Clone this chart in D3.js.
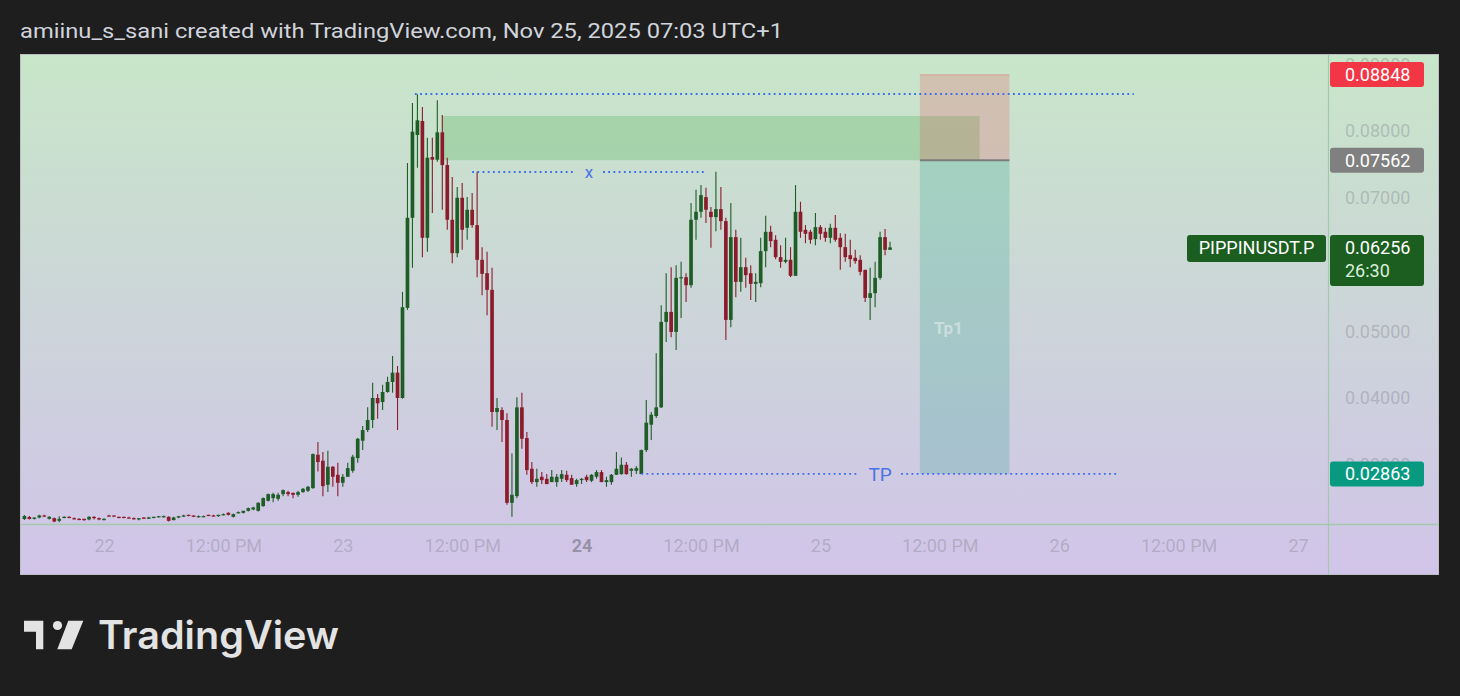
<!DOCTYPE html>
<html><head><meta charset="utf-8">
<script src="https://cdn.jsdelivr.net/npm/d3@7"></script>
<style>html,body{margin:0;padding:0;background:#1e1e1e;overflow:hidden}</style>
</head><body>
<svg id="c" width="1460" height="696"></svg>
<script>
// ---------- DATA ----------
const titleText = "amiinu_s_sani created with TradingView.com, Nov 25, 2025 07:03 UTC+1";
const symbol = "PIPPINUSDT.P";
const countdown = "26:30";
const startTime = "2025-11-21T16:00:00Z";   // first 30-minute candle
const intervalMinutes = 30;

const opens = [
0.02187,0.02217,0.0219,0.0221,0.0224,0.0219,0.0220,0.0216,0.0221,0.0222,
0.0220,0.0219,0.0219,0.0218,0.0222,0.0220,0.0217,0.0224,0.0224,0.0222,
0.0222,0.0221,0.0220,0.0218,0.0221,0.0219,0.0221,0.0222,0.0222,0.0222,
0.0217,0.0221,0.0223,0.0225,0.0224,0.0222,0.0222,0.0225,0.0224,0.0223,
0.0225,0.0228,0.0222,0.0228,0.0228,0.0231,0.0233,0.0231,0.0238,0.0246,
0.0250,0.0249,0.0256,0.0259,0.0258,0.0255,0.0259,0.0261,0.0265,0.0315,
0.0306,0.0270,0.0297,0.0285,0.0273,0.0282,0.0291,0.0310,0.0336,0.0352,
0.0367,0.0400,0.0394,0.0409,0.0424,0.0438,0.0400,0.0535,0.0670,0.0794,
0.0815,0.0640,0.0761,0.0757,0.0798,0.0749,0.0667,0.0617,0.0700,0.0655,
0.0682,0.0659,0.0607,0.0587,0.0562,0.0379,0.0382,0.0367,0.0243,0.0253,
0.0386,0.0340,0.0294,0.0274,0.0282,0.0279,0.0274,0.0274,0.0279,0.0285,
0.0280,0.0271,0.0277,0.0282,0.0276,0.0282,0.0289,0.0274,0.0274,0.0285,
0.0286,0.0300,0.0291,0.0291,0.0286,0.0322,0.0360,0.0373,0.0386,0.0514,
0.0529,0.0499,0.0580,0.0581,0.0569,0.0667,0.0679,0.0701,0.0679,0.0671,
0.0683,0.0665,0.0517,0.0641,0.0574,0.0596,0.0587,0.0571,0.0572,0.0620,
0.0649,0.0637,0.0611,0.0604,0.0607,0.0583,0.0679,0.0652,0.0649,0.0638,
0.0656,0.0649,0.0640,0.0655,0.0640,0.0626,0.0614,0.0610,0.0607,0.0592,
0.0550,0.0557,0.0580,0.0641,0.0622];

const highs = [
0.02247,0.02232,0.0221,0.0225,0.0225,0.0223,0.0221,0.0223,0.0223,0.0223,
0.0221,0.0220,0.0219,0.0223,0.0223,0.0221,0.0220,0.0225,0.0224,0.0222,
0.0222,0.0222,0.0221,0.0220,0.0221,0.0222,0.0222,0.0223,0.0224,0.0223,
0.0222,0.0223,0.0225,0.0225,0.0224,0.0224,0.0224,0.0225,0.0225,0.0225,
0.0227,0.0229,0.0227,0.0230,0.0231,0.0236,0.0237,0.0244,0.0251,0.0257,
0.0258,0.0258,0.0263,0.0261,0.0258,0.0261,0.0265,0.0268,0.0317,0.0334,
0.0319,0.0321,0.0298,0.0303,0.0286,0.0303,0.0315,0.0340,0.0358,0.0386,
0.0423,0.0406,0.0420,0.0432,0.0463,0.0448,0.0559,0.0752,0.0842,0.0855,
0.0836,0.0790,0.0790,0.0846,0.0824,0.0760,0.0731,0.0716,0.0722,0.0701,
0.0707,0.0739,0.0626,0.0619,0.0595,0.0400,0.0386,0.0377,0.0317,0.0401,
0.0408,0.0349,0.0304,0.0294,0.0289,0.0286,0.0292,0.0286,0.0292,0.0291,
0.0285,0.0279,0.0280,0.0285,0.0286,0.0292,0.0292,0.0282,0.0286,0.0319,
0.0311,0.0304,0.0295,0.0298,0.0323,0.0397,0.0379,0.0467,0.0539,0.0587,
0.0596,0.0599,0.0604,0.0587,0.0692,0.0712,0.0719,0.0715,0.0686,0.0739,
0.0716,0.0670,0.0692,0.0652,0.0640,0.0610,0.0599,0.0587,0.0640,0.0673,
0.0658,0.0644,0.0629,0.0640,0.0626,0.0719,0.0694,0.0659,0.0652,0.0677,
0.0659,0.0655,0.0661,0.0674,0.0647,0.0646,0.0637,0.0622,0.0614,0.0592,
0.0595,0.0604,0.0649,0.0653,0.0634];

const lows = [
0.02172,0.0218,0.0218,0.0220,0.0222,0.0218,0.0214,0.0214,0.0220,0.0220,
0.0218,0.0217,0.0216,0.0217,0.0218,0.0217,0.0217,0.0223,0.0222,0.0220,
0.0220,0.0220,0.0218,0.0217,0.0219,0.0219,0.0220,0.0221,0.0221,0.0215,
0.0217,0.0220,0.0222,0.0223,0.0222,0.0221,0.0222,0.0223,0.0223,0.0222,
0.0224,0.0224,0.0221,0.0227,0.0227,0.0230,0.0232,0.0230,0.0237,0.0245,
0.0244,0.0246,0.0253,0.0253,0.0250,0.0252,0.0258,0.0259,0.0264,0.0290,
0.0253,0.0259,0.0267,0.0253,0.0267,0.0282,0.0288,0.0303,0.0322,0.0349,
0.0355,0.0369,0.0382,0.0408,0.0408,0.0352,0.0399,0.0532,0.0595,0.0745,
0.0611,0.0619,0.0677,0.0754,0.0682,0.0652,0.0602,0.0611,0.0622,0.0637,
0.0655,0.0581,0.0554,0.0524,0.0357,0.0352,0.0334,0.0240,0.0222,0.0250,
0.0324,0.0285,0.0271,0.0267,0.0271,0.0271,0.0274,0.0267,0.0274,0.0274,
0.0270,0.0267,0.0271,0.0274,0.0274,0.0279,0.0274,0.0267,0.0270,0.0285,
0.0285,0.0285,0.0282,0.0286,0.0286,0.0319,0.0337,0.0370,0.0385,0.0484,
0.0491,0.0472,0.0520,0.0544,0.0565,0.0637,0.0670,0.0662,0.0625,0.0650,
0.0652,0.0487,0.0506,0.0551,0.0559,0.0565,0.0547,0.0544,0.0566,0.0596,
0.0626,0.0608,0.0595,0.0602,0.0581,0.0583,0.0640,0.0632,0.0631,0.0629,
0.0637,0.0634,0.0632,0.0634,0.0592,0.0604,0.0596,0.0601,0.0584,0.0544,
0.0517,0.0536,0.0577,0.0614,0.0622];

const closes = [
0.02232,0.02187,0.0221,0.0224,0.0223,0.0222,0.0215,0.0219,0.0222,0.0221,
0.0219,0.0218,0.0217,0.0222,0.0220,0.0218,0.0219,0.0223,0.0223,0.0221,
0.0221,0.0220,0.0219,0.0220,0.0219,0.0221,0.0222,0.0223,0.0223,0.0216,
0.0221,0.0223,0.0224,0.0224,0.0222,0.0223,0.0223,0.0224,0.0223,0.0225,
0.0226,0.0225,0.0226,0.0229,0.0231,0.0235,0.0236,0.0243,0.0250,0.0256,
0.0256,0.0255,0.0262,0.0256,0.0255,0.0259,0.0264,0.0267,0.0316,0.0304,
0.0268,0.0297,0.0282,0.0273,0.0282,0.0295,0.0312,0.0339,0.0352,0.0367,
0.0400,0.0392,0.0409,0.0424,0.0438,0.0400,0.0536,0.0670,0.0799,0.0816,
0.0640,0.0760,0.0757,0.0798,0.0749,0.0667,0.0617,0.0700,0.0652,0.0682,
0.0659,0.0607,0.0586,0.0562,0.0379,0.0385,0.0367,0.0243,0.0255,0.0386,
0.0339,0.0292,0.0274,0.0279,0.0277,0.0271,0.0282,0.0282,0.0286,0.0277,
0.0270,0.0277,0.0279,0.0277,0.0285,0.0289,0.0274,0.0277,0.0285,0.0294,
0.0300,0.0286,0.0294,0.0295,0.0322,0.0363,0.0375,0.0386,0.0514,0.0529,
0.0499,0.0580,0.0581,0.0569,0.0667,0.0679,0.0704,0.0682,0.0671,0.0683,
0.0665,0.0517,0.0641,0.0574,0.0596,0.0584,0.0571,0.0574,0.0620,0.0649,
0.0635,0.0611,0.0604,0.0607,0.0583,0.0679,0.0649,0.0646,0.0637,0.0656,
0.0646,0.0640,0.0655,0.0637,0.0626,0.0611,0.0608,0.0605,0.0589,0.0550,
0.0557,0.0580,0.0641,0.0622,0.06256];

// 0.06 tick is fully covered by the last-price label in the reference, so it is omitted
const priceTicks = [0.03, 0.04, 0.05, 0.07, 0.08, 0.09];
const timeTicks = ["2025-11-22T00:00Z","2025-11-22T12:00Z","2025-11-23T00:00Z","2025-11-23T12:00Z",
  "2025-11-24T00:00Z","2025-11-24T12:00Z","2025-11-25T00:00Z","2025-11-25T12:00Z",
  "2025-11-26T00:00Z","2025-11-26T12:00Z","2025-11-27T00:00Z"];
const timeTickLabels = ["22","12:00 PM","23","12:00 PM","24","12:00 PM","25","12:00 PM","26","12:00 PM","27"];

// drawings
const zoneTimes = ["2025-11-23T10:00Z","2025-11-25T16:00Z"];
const zonePrices = [0.07562, 0.08225];
const positionTimes = ["2025-11-25T10:00Z","2025-11-25T19:00Z"];
const stopPrice = 0.08848, entryPrice = 0.07562, targetPrice = 0.02863;
const lastPrice = 0.06256;
const levelPrices = [0.08554, 0.07386, 0.02863];
const levelStarts = ["2025-11-23T07:15Z","2025-11-23T13:00Z","2025-11-24T06:00Z"];
const levelEnds   = ["2025-11-26T07:30Z","2025-11-24T12:30Z","2025-11-26T06:00Z"];
const levelLabels = ["","x","TP"];

// ---------- CHART ----------
const W = 1460, H = 696;
const L = 21, R = 1328, T = 55, B = 524;
const svg = d3.select("#c");
const defs = svg.append("defs");
const g = defs.append("linearGradient").attr("id","bg").attr("x1",0).attr("y1",0).attr("x2",0).attr("y2",1);
g.append("stop").attr("offset","0%").attr("stop-color","#c8e6c9");
g.append("stop").attr("offset","100%").attr("stop-color","#d1c4e9");
defs.append("clipPath").attr("id","plot").append("rect").attr("x",L).attr("y",T).attr("width",R-L).attr("height",B-T);

svg.append("rect").attr("width",W).attr("height",H).attr("fill","#1e1e1e");
svg.append("text").attr("x",20).attr("y",38).attr("fill","#d1d4dc")
  .attr("font-family","Roboto, sans-serif").attr("font-size",21)
  .attr("textLength",763).attr("lengthAdjust","spacingAndGlyphs").text(titleText);

svg.append("rect").attr("x",20.5).attr("y",54.5).attr("width",1418).attr("height",520)
  .attr("fill","url(#bg)").attr("stroke","#bdbdc4").attr("stroke-width",1);

const times = opens.map((_, i) => new Date(Date.parse(startTime) + i * intervalMinutes * 60000));
const x = d3.scaleUtc().domain([new Date("2025-11-21T15:39:30Z"), new Date("2025-11-27T03:01:00Z")]).range([L, R]);
const y = d3.scaleLinear().domain([0.021124, 0.091386]).range([B, T]);

// axes separators
svg.append("line").attr("x1",R+0.5).attr("x2",R+0.5).attr("y1",T).attr("y2",575).attr("stroke","#a3c9ad").attr("stroke-width",1.2);
svg.append("line").attr("x1",21).attr("x2",1439).attr("y1",B+0.5).attr("y2",B+0.5).attr("stroke","#a3c9ad").attr("stroke-width",1.5);

// price axis
const yAxis = d3.axisRight(y).tickValues(priceTicks).tickFormat(d3.format(".5f")).tickSize(0).tickPadding(0);
const ya = svg.append("g").attr("transform",`translate(${1345},0)`).call(yAxis);
ya.select(".domain").remove();
ya.selectAll("text").attr("font-family","Roboto, sans-serif").attr("font-size",18).attr("fill","rgba(120,123,134,0.36)");

// time axis
const xAxis = d3.axisBottom(x).tickValues(timeTicks.map(d => new Date(d))).tickFormat((d,i) => timeTickLabels[i]).tickSize(0).tickPadding(0);
const xa = svg.append("g").attr("transform",`translate(0,${539})`).call(xAxis);
xa.select(".domain").remove();
xa.selectAll("text").attr("font-family","Roboto, sans-serif").attr("font-size",18)
  .attr("fill", (d,i) => timeTickLabels[i] === "24" ? "rgba(100,100,115,0.55)" : "rgba(120,123,134,0.36)")
  .attr("font-weight", (d,i) => timeTickLabels[i] === "24" ? "bold" : "normal");

const plot = svg.append("g").attr("clip-path","url(#plot)");

// supply zone
plot.append("rect")
  .attr("x", x(new Date(zoneTimes[0]))).attr("width", x(new Date(zoneTimes[1])) - x(new Date(zoneTimes[0])))
  .attr("y", y(zonePrices[1])).attr("height", y(zonePrices[0]) - y(zonePrices[1]))
  .attr("fill","rgba(76,175,80,0.28)");

// candles
const step = x(new Date(Date.parse(startTime) + intervalMinutes*60000)) - x(new Date(startTime));
const bw = step * 0.74;
const up = "#1e5e26", down = "#8c1b2c";
const cg = plot.append("g");
times.forEach((t, i) => {
  const cx = x(t);
  const col = closes[i] >= opens[i] ? up : down;
  cg.append("line").attr("x1",cx).attr("x2",cx).attr("y1",y(highs[i])).attr("y2",y(lows[i]))
    .attr("stroke",col).attr("stroke-width",1.1);
  const top = y(Math.max(opens[i], closes[i])), bot = y(Math.min(opens[i], closes[i]));
  cg.append("rect").attr("x",cx - bw/2).attr("width",bw).attr("y",top).attr("height",Math.max(1.2, bot-top)).attr("fill",col);
});

// long/short position tool
const px0 = x(new Date(positionTimes[0])), px1 = x(new Date(positionTimes[1]));
plot.append("rect").attr("x",px0).attr("width",px1-px0).attr("y",y(stopPrice)).attr("height",y(entryPrice)-y(stopPrice))
  .attr("fill","rgba(242,54,69,0.2)");
plot.append("line").attr("x1",px0).attr("x2",px1).attr("y1",y(stopPrice)+0.5).attr("y2",y(stopPrice)+0.5).attr("stroke","rgba(242,54,69,0.25)");
plot.append("rect").attr("x",px0).attr("width",px1-px0).attr("y",y(entryPrice)).attr("height",y(targetPrice)-y(entryPrice))
  .attr("fill","rgba(8,153,129,0.2)");
plot.append("line").attr("x1",px0).attr("x2",px1).attr("y1",y(entryPrice)).attr("y2",y(entryPrice)).attr("stroke","#7c7c7c").attr("stroke-width",2);
plot.append("text").attr("x",px0+14).attr("y",y(0.0505)).attr("dy","0.35em")
  .attr("font-family","Roboto, sans-serif").attr("font-weight","bold").attr("font-size",17)
  .attr("fill","rgba(255,255,255,0.42)").text("Tp1");

// horizontal dotted levels
levelPrices.forEach((p, i) => {
  const x1 = x(new Date(levelStarts[i])), x2 = x(new Date(levelEnds[i]));
  const yy = y(p);
  const lab = levelLabels[i];
  const mid = (x1 + x2) / 2;
  const gap = lab === "TP" ? 21 : 14;
  const segs = lab ? [[x1, mid-gap],[mid+gap, x2]] : [[x1, x2]];
  segs.forEach(s => plot.append("line").attr("x1",s[0]).attr("x2",s[1]).attr("y1",yy).attr("y2",yy)
    .attr("stroke","#3b6cf0").attr("stroke-width",1.8).attr("stroke-dasharray","1.8,3.4"));
  if (lab) plot.append("text").attr("x",mid).attr("y",yy).attr("dy","0.36em").attr("text-anchor","middle")
    .attr("font-family","Roboto, sans-serif").attr("font-size", lab === "TP" ? 19 : 17).attr("fill","#4a73e8").text(lab);
});

// price labels on axis
function priceLabel(p, color, h, lines) {
  const cy = y(p);
  const top = cy - 12.5;
  svg.append("rect").attr("x",1330).attr("y",top).attr("width",94).attr("height",h).attr("rx",3).attr("fill",color);
  lines.forEach((t, k) => svg.append("text").attr("x",1345).attr("y",cy + k*23).attr("dy","0.36em")
    .attr("font-family","Roboto, sans-serif").attr("font-size",18)
    .attr("fill", k === 0 ? "#ffffff" : "#d8f0d8").text(t));
}
priceLabel(stopPrice, "#f23645", 25, [d3.format(".5f")(stopPrice)]);
priceLabel(entryPrice, "#808080", 25, [d3.format(".5f")(entryPrice)]);
priceLabel(lastPrice, "#1b5e20", 51, [d3.format(".5f")(lastPrice), countdown]);
priceLabel(targetPrice, "#089981", 25, [d3.format(".5f")(targetPrice)]);
// symbol label
svg.append("rect").attr("x",1187).attr("y",y(lastPrice)-12.5).attr("width",139).attr("height",27).attr("rx",3).attr("fill","#1b5e20");
svg.append("text").attr("x",1256.5).attr("y",y(lastPrice)).attr("dy","0.36em").attr("text-anchor","middle")
  .attr("font-family","Roboto, sans-serif").attr("font-size",18).attr("fill","#ffffff").text(symbol);

// TradingView logo
const logo = svg.append("g").attr("fill","#e3e3e3");
logo.append("path").attr("d","M24,620.7 L43.3,620.7 L43.3,649.3 L36,649.3 L36,631.7 L24,631.7 Z");
logo.append("circle").attr("cx",57.5).attr("cy",625.5).attr("r",4.6);
logo.append("path").attr("d","M68.3,620.7 L83.3,620.7 L71.7,649.3 L57.3,649.3 Z");
logo.append("text").attr("x",98).attr("y",649.3).attr("font-family","Inter, 'Open Sans', sans-serif")
  .attr("font-weight",600).attr("font-size",39).attr("textLength",241).attr("lengthAdjust","spacingAndGlyphs").text("TradingView");
</script>
</body></html>
